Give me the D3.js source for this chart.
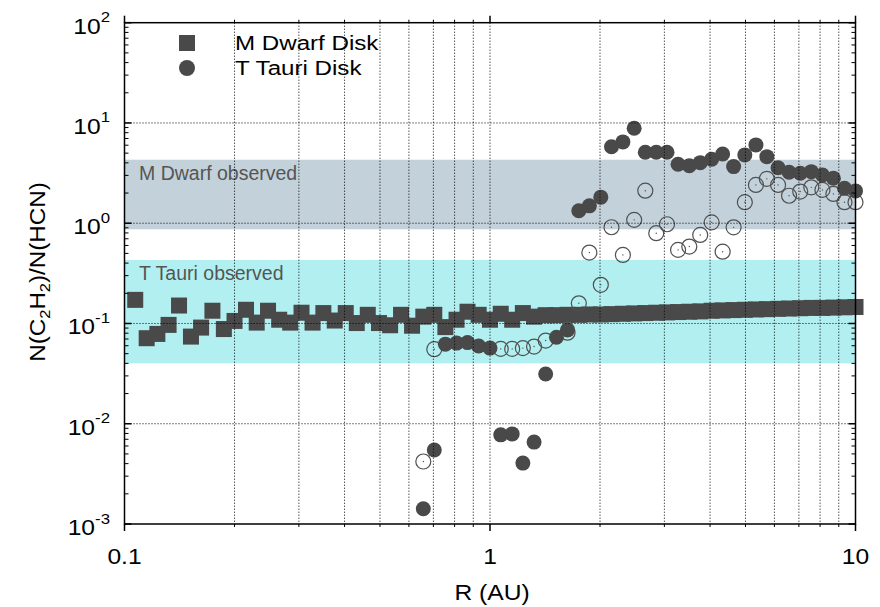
<!DOCTYPE html>
<html>
<head>
<meta charset="utf-8">
<script src="https://cdn.jsdelivr.net/npm/d3@7/dist/d3.min.js"></script>
<style>
  html, body { margin: 0; padding: 0; background: #fff; }
  svg { display: block; font-family: "Liberation Sans", Arial, Helvetica, sans-serif; }
</style>
</head>
<body>
<svg id="chart" width="880" height="607"></svg>
<script>
// Radial grid of the disk models (AU)
const radiusAU = [0.107,0.115,0.123,0.132,0.141,0.152,0.162,0.174,0.187,0.200,
  0.215,0.230,0.247,0.265,0.284,0.305,0.327,0.350,0.376,0.403,
  0.432,0.463,0.497,0.533,0.571,0.612,0.657,0.704,0.755,0.810,
  0.868,0.931,1.00,1.07,1.15,1.23,1.32,1.42,1.52,1.63,
  1.75,1.87,2.01,2.15,2.31,2.48,2.66,2.85,3.05,3.27,
  3.51,3.76,4.04,4.33,4.64,4.98,5.34,5.72,6.14,6.58,
  7.06,7.57,8.12,8.70,9.33,10.0];

// N(C2H2)/N(HCN) column density ratio, M dwarf disk model
const mDwarfRatio = [0.172,0.0713,0.0787,0.0968,0.151,0.074,0.091,0.134,0.088,0.106,
  0.137,0.102,0.134,0.109,0.102,0.128,0.102,0.127,0.107,0.127,
  0.101,0.122,0.101,0.096,0.122,0.095,0.117,0.122,0.092,0.109,
  0.131,0.122,0.109,0.125,0.109,0.127,0.117,0.121,0.121,0.122,
  0.122,0.123,0.123,0.124,0.125,0.126,0.127,0.128,0.129,0.130,
  0.131,0.132,0.134,0.135,0.136,0.137,0.138,0.139,0.140,0.141,
  0.142,0.143,0.143,0.144,0.145,0.146];

// T Tauri disk model (filled), from 0.657 AU outward
const tTauriR = [0.657,0.704,0.755,0.810,0.868,0.931,1.00,1.07,1.15,1.23,
  1.32,1.42,1.52,1.63,1.75,1.87,2.01,2.15,2.31,2.48,
  2.66,2.85,3.05,3.27,3.51,3.76,4.04,4.33,4.64,4.98,
  5.34,5.72,6.14,6.58,7.06,7.57,8.12,8.70,9.33,10.0];
const tTauriRatio = [0.00142,0.00547,0.0622,0.0637,0.0645,0.0597,0.0568,0.00775,0.00792,0.00405,
  0.00656,0.0313,0.073,0.0863,1.33,1.49,1.82,5.8,6.47,8.85,
  5.1,5.1,5.1,3.87,3.75,4.02,4.35,4.91,3.67,4.8,
  6.04,4.61,3.58,3.22,3.15,3.27,3.03,2.81,2.23,2.1];

// T Tauri disk, alternate model (open circles)
const tTauriAltR = [0.657,0.704,1.07,1.15,1.23,1.32,1.42,1.63,
  1.75,1.87,2.01,2.15,2.31,2.48,2.66,2.85,3.05,3.27,
  3.51,3.76,4.04,4.33,4.64,4.98,5.34,5.72,6.14,6.58,
  7.06,7.57,8.12,8.70,9.33,10.0];
const tTauriAltRatio = [0.0042,0.0554,0.0558,0.0558,0.0568,0.0589,0.0676,0.081,
  0.159,0.51,0.243,0.912,0.483,1.08,2.11,0.795,0.977,0.542,
  0.585,0.764,1.02,0.52,0.91,1.62,2.41,2.77,2.41,1.88,
  2.07,2.28,2.15,1.96,1.62,1.62];

// Observed ranges
const bandNames = ["M Dwarf observed", "T Tauri observed"];
const bandLow = [0.87, 0.040];
const bandHigh = [4.3, 0.43];
const bandColors = ["#c2d1da", "#b2eff0"];

// Axis ticks
const xTickValues = [0.1, 1, 10];
const xTickLabels = ["0.1", "1", "10"];
const yTickExponents = [-3, -2, -1, 0, 1, 2];

const legendNames = ["M Dwarf Disk", "T Tauri Disk"];

(function draw() {
  const svg = d3.select("#chart");
  const pLeft = 124.5, pRight = 855.5, pTop = 22.7, pBottom = 524;
  const x = d3.scaleLog().domain([0.1, 10]).range([pLeft, pRight]);
  const y = d3.scaleLog().domain([1e-3, 1e2]).range([pBottom, pTop]);

  const markColor = "#494949";
  const sx = 1.12; // horizontal stretch of the labels

  // observed bands
  bandNames.forEach((name, i) => {
    svg.append("rect")
      .attr("x", pLeft).attr("width", pRight - pLeft)
      .attr("y", y(bandHigh[i])).attr("height", y(bandLow[i]) - y(bandHigh[i]))
      .attr("fill", bandColors[i]);
    svg.append("text")
      .attr("x", 139).attr("y", y(bandHigh[i]) + 20)
      .attr("font-size", 19.5).attr("fill", "#555")
      .text(name);
  });

  const xMinor = [];
  [0.1, 1].forEach(d => { for (let k = 2; k <= 9; k++) xMinor.push(d * k); });
  const yMinor = [];
  yTickExponents.slice(0, -1).forEach(e => { for (let k = 2; k <= 9; k++) yMinor.push(k * Math.pow(10, e)); });

  // M dwarf squares
  const sq = 16;
  svg.append("g").selectAll("rect")
    .data(radiusAU.map((r, i) => [r, mDwarfRatio[i]]))
    .join("rect")
    .attr("x", d => x(d[0]) - sq / 2).attr("y", d => y(d[1]) - sq / 2)
    .attr("width", sq).attr("height", sq)
    .attr("fill", markColor);

  // alternate T Tauri model: open circles with a centre dot
  const alt = svg.append("g").selectAll("g")
    .data(tTauriAltR.map((r, i) => [r, tTauriAltRatio[i]]))
    .join("g")
    .attr("transform", d => `translate(${x(d[0])},${y(d[1])})`);
  alt.append("circle").attr("r", 7.5).attr("fill", "none").attr("stroke", "#505050").attr("stroke-width", 1.2);
  alt.append("circle").attr("r", 0.7).attr("fill", "#505050");

  // T Tauri filled circles
  svg.append("g").selectAll("circle")
    .data(tTauriR.map((r, i) => [r, tTauriRatio[i]]))
    .join("circle")
    .attr("cx", d => x(d[0])).attr("cy", d => y(d[1]))
    .attr("r", 7.5).attr("fill", markColor);

  // dotted grid
  const grid = svg.append("g").attr("stroke", "#000").attr("stroke-width", 1)
    .attr("stroke-dasharray", "1,2");
  grid.selectAll("line.v").data(xMinor.concat([1])).join("line")
    .attr("x1", d => x(d)).attr("x2", d => x(d))
    .attr("y1", pTop).attr("y2", pBottom);
  grid.selectAll("line.h").data(yTickExponents.slice(1, -1)).join("line")
    .attr("y1", d => y(Math.pow(10, d))).attr("y2", d => y(Math.pow(10, d)))
    .attr("x1", pLeft).attr("x2", pRight);

  // frame and ticks
  const axis = svg.append("g").attr("stroke", "#000").attr("fill", "none");
  axis.append("rect").attr("x", pLeft).attr("y", pTop)
    .attr("width", pRight - pLeft).attr("height", pBottom - pTop).attr("stroke-width", 1.5);
  xMinor.forEach(v => {
    axis.append("line").attr("x1", x(v)).attr("x2", x(v)).attr("y1", pBottom).attr("y2", pBottom + 3).attr("stroke-width", 1);
    axis.append("line").attr("x1", x(v)).attr("x2", x(v)).attr("y1", pTop).attr("y2", pTop - 3).attr("stroke-width", 1);
  });
  xTickValues.forEach(v => {
    axis.append("line").attr("x1", x(v)).attr("x2", x(v)).attr("y1", pBottom).attr("y2", pBottom + 7).attr("stroke-width", 1.5);
    axis.append("line").attr("x1", x(v)).attr("x2", x(v)).attr("y1", pTop).attr("y2", pTop - 7).attr("stroke-width", 1.5);
  });
  yMinor.forEach(v => {
    axis.append("line").attr("x1", pLeft).attr("x2", pLeft + 4).attr("y1", y(v)).attr("y2", y(v)).attr("stroke-width", 1);
    axis.append("line").attr("x1", pRight).attr("x2", pRight - 4).attr("y1", y(v)).attr("y2", y(v)).attr("stroke-width", 1);
  });
  yTickExponents.forEach(e => {
    const yy = y(Math.pow(10, e));
    axis.append("line").attr("x1", pLeft).attr("x2", pLeft + 7).attr("y1", yy).attr("y2", yy).attr("stroke-width", 1.5);
    axis.append("line").attr("x1", pRight).attr("x2", pRight - 7).attr("y1", yy).attr("y2", yy).attr("stroke-width", 1.5);
  });

  // tick labels
  xTickValues.forEach((v, i) => {
    svg.append("text")
      .attr("transform", `translate(${x(v)},564) scale(${sx},1)`)
      .attr("text-anchor", "middle").attr("font-size", 22).attr("fill", "#000")
      .text(xTickLabels[i]);
  });
  yTickExponents.forEach(e => {
    const t = svg.append("text")
      .attr("transform", `translate(110,${y(Math.pow(10, e)) + 11}) scale(${sx},1)`)
      .attr("text-anchor", "end").attr("font-size", 22).attr("fill", "#000");
    t.append("tspan").text("10");
    t.append("tspan").attr("font-size", 15).attr("dy", -11.5).text(String(e));
  });

  // axis titles
  svg.append("text")
    .attr("transform", `translate(492,600) scale(${sx},1)`)
    .attr("text-anchor", "middle").attr("font-size", 22).attr("fill", "#000")
    .text("R (AU)");
  const yl = svg.append("text")
    .attr("transform", "translate(45,272) rotate(-90) scale(1.1,1)")
    .attr("text-anchor", "middle").attr("font-size", 22).attr("fill", "#000");
  yl.append("tspan").text("N(C");
  yl.append("tspan").attr("font-size", 15).attr("dy", 5).text("2");
  yl.append("tspan").attr("dy", -5).text("H");
  yl.append("tspan").attr("font-size", 15).attr("dy", 5).text("2");
  yl.append("tspan").attr("dy", -5).text(")/N(HCN)");

  // legend
  svg.append("rect").attr("x", 179).attr("y", 35).attr("width", 16).attr("height", 16).attr("fill", markColor);
  svg.append("circle").attr("cx", 187).attr("cy", 68).attr("r", 8).attr("fill", markColor);
  legendNames.forEach((name, i) => {
    svg.append("text")
      .attr("transform", `translate(235,${50 + i * 24.5}) scale(1.15,1)`)
      .attr("font-size", 21).attr("fill", "#000")
      .text(name);
  });
})();
</script>
</body>
</html>
